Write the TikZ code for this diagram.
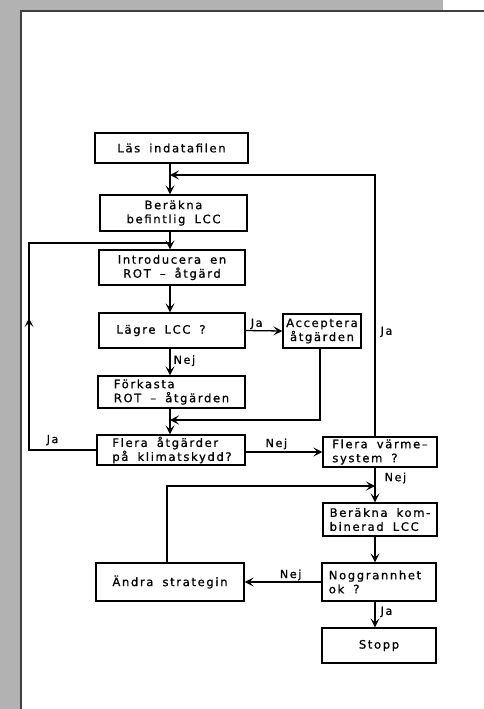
\documentclass[tikz,border=0pt]{standalone}
\usepackage{fontspec}
\newfontfamily\plotfont[LetterSpace=14,WordSpace={1.7,0,0},FakeBold=0.8]{DejaVu Sans}
\usetikzlibrary{arrows.meta,calc}
\begin{document}
\begin{tikzpicture}[x=1pt,y=-1pt,
  box/.style={draw,line width=1.3pt,rectangle,inner sep=0pt,font=\plotfont\fontsize{11.6}{14}\selectfont},
  conn/.style={line width=1.3pt},
  arr/.style={conn,-{Stealth[length=9pt,width=9pt,inset=4pt]}},
  lbl/.style={font=\plotfont\fontsize{11.2}{13}\selectfont,inner sep=1pt}
]
\useasboundingbox (0,0) rectangle (484,709);
% grey margin strips and frame
\fill[black!30] (0,0) rectangle (20,709);
\fill[black!30] (20,0) rectangle (443,10);
\draw[line width=1.5pt,black!75] (21,709) -- (21,11) -- (484,11);

% nodes
\node[box,minimum width=153pt,minimum height=30pt] (lase) at (171.5,148) {Läs indatafilen};
\node[box,minimum width=147pt,minimum height=36pt,align=center] (ber) at (173.5,213) {Beräkna\\befintlig LCC};
\node[box,minimum width=146pt,minimum height=35pt,align=center] (intro) at (172,267.5) {Introducera en\\ROT – åtgärd};
\node[box,minimum width=146pt,minimum height=35pt] (lagre) at (172,330.5) {\hspace*{-22pt}Lägre LCC ?};
\node[box,minimum width=147pt,minimum height=32pt,align=left] (fork) at (171.5,392) {Förkasta\\ROT – åtgärden};
\node[box,minimum width=148pt,minimum height=30pt,align=left] (flera) at (171,450) {\hspace*{2pt}Flera åtgärder\\\hspace*{2pt}på klimatskydd?};
\node[box,minimum width=78pt,minimum height=34pt,align=center] (acc) at (322,331) {Acceptera\\åtgärden};
\node[box,minimum width=114pt,minimum height=30pt,align=left] (varme) at (380,452) {Flera värme–\\system ?\hspace*{6pt}};
\node[box,minimum width=114pt,minimum height=33pt,align=left] (komb) at (380,519.5) {Beräkna kom-\\binerad LCC};
\node[box,minimum width=114pt,minimum height=38pt,align=left] (nogg) at (379,582) {Noggrannhet\hspace*{8pt}\\ok ?};
\node[box,minimum width=148pt,minimum height=38pt] (andra) at (170,582) {Ändra strategin};
\node[box,minimum width=114pt,minimum height=35pt] (stopp) at (379,645.5) {Stopp};

% helper coordinates
\coordinate (lx) at (170,0);
\coordinate (rx) at (375,0);
\coordinate (m1) at (170,420);
\coordinate (c0) at (29,450);
\coordinate (c1) at (29,318);
\coordinate (c1l) at (24.5,327);
\coordinate (c1m) at (29,323);
\coordinate (c1r) at (33.5,327);
\coordinate (m2) at (170,243);
\coordinate (m3) at (170,175);
\coordinate (ax) at (167,0);
\coordinate (m4) at (375,486);

% connectors
\draw[arr] (lase.south -| lx) -- (ber.north -| lx);
\draw[arr] (ber.south -| lx) -- (intro.north -| lx);
\draw[arr] (intro.south -| lx) -- (lagre.north -| lx);
\draw[arr] (lagre.south -| lx) -- node[lbl,right,pos=0.45,xshift=2pt]{Nej} (fork.north -| lx);
\draw[arr] (fork.south -| lx) -- (flera.north -| lx);
\draw[arr] (lagre.east) -- node[lbl,above,pos=0.3]{Ja} (acc.west);
\draw[arr] (acc.south -| 320,0) |- (m1);
\draw[conn] (flera.west) -- node[lbl,above,pos=0.65,yshift=3pt]{Ja} (c0) -- (c1) |- (m2);
\fill[line join=miter] (c1) -- (c1l) -- (c1m) -- (c1r) -- cycle;
\draw[arr] (flera.east |- varme.west) -- node[lbl,above,pos=0.4,yshift=1pt]{Nej} (varme.west);
\draw[arr] (varme.north -| rx) |- node[lbl,right,pos=0.2,xshift=4pt]{Ja} (m3);
\draw[arr] (varme.south -| rx) -- node[lbl,right,pos=0.3,xshift=8pt]{Nej} (komb.north -| rx);
\draw[arr] (komb.south -| rx) -- (nogg.north -| rx);
\draw[arr] (nogg.west) -- node[lbl,above,pos=0.4]{Nej} (andra.east);
\draw[arr] (nogg.south -| rx) -- node[lbl,right,pos=0.4,xshift=4pt]{Ja} (stopp.north -| rx);
\draw[arr] (andra.north -| ax) |- (m4);
\end{tikzpicture}
\end{document}
